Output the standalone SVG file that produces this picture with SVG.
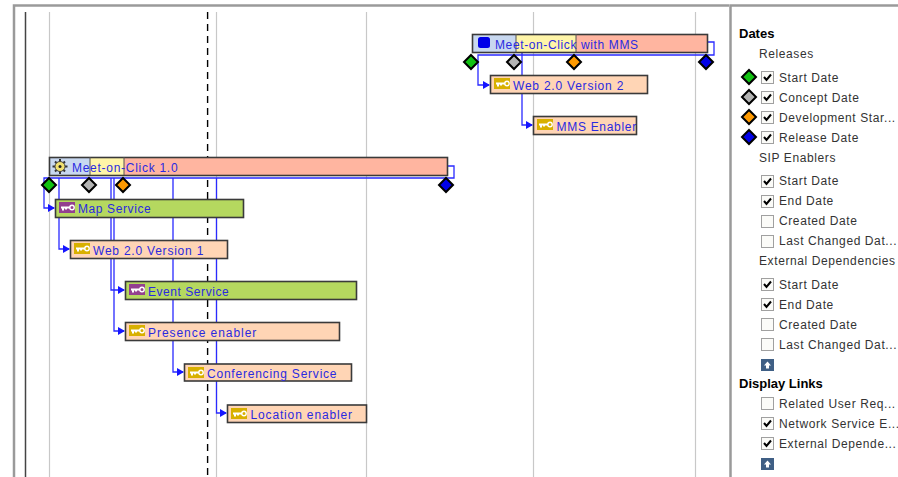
<svg xmlns="http://www.w3.org/2000/svg" width="898" height="477" viewBox="0 0 898 477">
<style>
text{font-family:"Liberation Sans",Arial,sans-serif;font-size:12px}
.t{fill:#2a2ae0;letter-spacing:.78px}
.l{fill:#333;letter-spacing:.6px}
.b{fill:#000;font-weight:700;font-size:13px}
.grid{stroke:#c8c8c8;stroke-width:1.2;fill:none}
.box{stroke:#3a3a3a;stroke-width:1.6}
.peach{fill:#ffd5b5}.green{fill:#b5d85f}.red{fill:#ffb5a0}.blue{fill:#c8d8f0}.yel{fill:#fff5a8}
.link{fill:none;stroke:#2a2aff;stroke-width:1.3}
.d{stroke:#000;stroke-width:2}
.cb{fill:#fbfbf8;stroke:#a0a0a0}
.ck{fill:none;stroke:#000;stroke-width:2}
</style>
<defs>
<marker id="arr" markerWidth="8" markerHeight="8" refX="6" refY="4" orient="auto" markerUnits="userSpaceOnUse"><path d="M0 0L7 4L0 8z" fill="#1515ff"/></marker>
<g id="key"><path d="M2 5.500h9M4 5.500v3M7 5.500v2" stroke="#fff" stroke-width="2" fill="none"/><circle cx="13" cy="5.500" r="2.200" fill="none" stroke="#fff" stroke-width="1.400"/></g>
<g id="ky"><rect width="16" height="11" fill="#d8b000"/><use href="#key"/></g>
<g id="kp"><rect width="16" height="11" fill="#93408f"/><use href="#key"/></g>
<path id="dm" class="d" d="M0 -7L7 0L0 7L-7 0z"/>
<g id="on"><rect class="cb" x=".5" y=".5" width="12" height="12"/><path class="ck" d="M3 6l2.500 3L10 3.500"/></g>
<rect id="off" class="cb" x=".5" y=".5" width="12" height="12"/>
<g id="up"><rect width="13" height="12" fill="#3f5f85"/><path d="M6.500 2.500L10 6.500H8V9.500H5V6.500H3z" fill="#fff"/></g>
</defs>

<g id="frame" fill="none">
<path d="M14 477V5.500H729" stroke="#9a9a9a" stroke-width="2.500"/>
<path d="M730.500 477V5.500H898" stroke="#9a9a9a" stroke-width="2.500"/>
<path d="M25.500 12V477" stroke="#444" stroke-width="1.500"/>
<path class="grid" d="M49.500 12V477M216.500 12V477M366.500 12V477M533.500 12V477M695.500 12V477"/>
<path d="M207.600 12V477" stroke="#000" stroke-width="1.400" stroke-dasharray="7 5"/>
</g>

<g id="connectors">
<path class="link" d="M707 42H714V55H478V85H489" marker-end="url(#arr)"/>
<path class="link" d="M522 52V125H532" marker-end="url(#arr)"/>
<path class="link" d="M447 166H454V178H44V208H54" marker-end="url(#arr)"/>
<path class="link" d="M59 178V249H69" marker-end="url(#arr)"/>
<path class="link" d="M111 178V290H124" marker-end="url(#arr)"/>
<path class="link" d="M114 178V331H124" marker-end="url(#arr)"/>
<path class="link" d="M173 178V372H183" marker-end="url(#arr)"/>
<path class="link" d="M216.500 178V413H226" marker-end="url(#arr)"/>
</g>

<g id="meet-mms">
<rect class="blue" x="472" y="34" width="44" height="18"/><rect class="yel" x="516" y="34" width="60" height="18"/><rect class="red" x="576" y="34" width="131" height="18"/>
<rect class="box" x="472.500" y="34.500" width="235" height="18" fill="none"/><path d="M516 34V52M576 34V52" stroke="#555"/>
<rect x="478" y="37" width="12" height="11" rx="2.500" fill="#0000e8"/>
<text class="t" x="495" y="49" style="letter-spacing:.62px">Meet-on-Click with MMS</text>
</g>
<g id="mms-dates">
<use href="#dm" x="471" y="62" fill="#12c212"/><use href="#dm" x="514" y="62" fill="#b4b4b4"/><use href="#dm" x="574" y="62" fill="#ff9a00"/><use href="#dm" x="706" y="62" fill="#0000e8"/>
</g>
<g id="web2v2"><rect class="box peach" x="490.500" y="75.500" width="157" height="18"/><use href="#ky" x="494" y="78"/><text class="t" x="513" y="90">Web 2.0 Version 2</text></g>
<g id="mms-enabler"><rect class="box peach" x="533.500" y="116.500" width="103" height="18"/><use href="#ky" x="537" y="119"/><text class="t" x="556.500" y="131" style="letter-spacing:.7px">MMS Enabler</text></g>

<g id="meet-10">
<rect class="blue" x="49" y="157" width="41" height="18"/><rect class="yel" x="90" y="157" width="34" height="18"/><rect class="red" x="124" y="157" width="323" height="18"/>
<rect class="box" x="49.500" y="157.500" width="398" height="18" fill="none"/><path d="M90 157V175M124 157V175" stroke="#555"/>
<g stroke="#333" stroke-width="2"><path d="M60 159V174M52.500 166.500H67.500M55 161.500L65 171.500M65 161.500L55 171.500"/></g>
<circle cx="60" cy="166.500" r="5" fill="#f0e070" stroke="#444"/><circle cx="60" cy="166.500" r="1.500" fill="#222"/>
<text class="t" x="72" y="172" style="letter-spacing:.72px">Meet-on-Click 1.0</text>
</g>
<g id="meet-10-dates">
<use href="#dm" x="49" y="185" fill="#12c212"/><use href="#dm" x="89" y="185" fill="#b4b4b4"/><use href="#dm" x="123" y="185" fill="#ff9a00"/><use href="#dm" x="446" y="185" fill="#0000e8"/>
</g>
<g id="map-service"><rect class="box green" x="55.500" y="199.500" width="188" height="18"/><use href="#kp" x="59" y="202"/><text class="t" x="78" y="213" style="letter-spacing:.6px">Map Service</text></g>
<g id="web2v1"><rect class="box peach" x="70.500" y="240.500" width="157" height="18"/><use href="#ky" x="74" y="243"/><text class="t" x="93" y="255">Web 2.0 Version 1</text></g>
<g id="event-service"><rect class="box green" x="125.500" y="281.500" width="231" height="18"/><use href="#kp" x="129" y="284"/><text class="t" x="148" y="296" style="letter-spacing:.55px">Event Service</text></g>
<g id="presence"><rect class="box peach" x="125.500" y="322.500" width="214" height="18"/><use href="#ky" x="129" y="325"/><text class="t" x="148" y="337" style="letter-spacing:.95px">Presence enabler</text></g>
<g id="conferencing"><rect class="box peach" x="184.500" y="364" width="167" height="17"/><use href="#ky" x="188" y="367"/><text class="t" x="207" y="378">Conferencing Service</text></g>
<g id="location"><rect class="box peach" x="227.500" y="405" width="139" height="17.500"/><use href="#ky" x="231" y="408"/><text class="t" x="250.500" y="419" style="letter-spacing:.85px">Location enabler</text></g>

<g id="legend">
<text class="b" x="739" y="38">Dates</text>
<text class="l" x="759" y="58">Releases</text>
<use href="#dm" x="749" y="77" fill="#12c212"/><use href="#on" x="761" y="71"/><text class="l" x="779" y="82">Start Date</text>
<use href="#dm" x="749" y="97" fill="#b4b4b4"/><use href="#on" x="761" y="91"/><text class="l" x="779" y="102">Concept Date</text>
<use href="#dm" x="749" y="117" fill="#ff9a00"/><use href="#on" x="761" y="111"/><text class="l" x="779" y="122">Development Star...</text>
<use href="#dm" x="749" y="137" fill="#0000e8"/><use href="#on" x="761" y="131"/><text class="l" x="779" y="142">Release Date</text>
<text class="l" x="759" y="162">SIP Enablers</text>
<use href="#on" x="761" y="175"/><text class="l" x="779" y="185">Start Date</text>
<use href="#on" x="761" y="195"/><text class="l" x="779" y="205">End Date</text>
<use href="#off" x="761" y="215"/><text class="l" x="779" y="225">Created Date</text>
<use href="#off" x="761" y="235"/><text class="l" x="779" y="245">Last Changed Dat...</text>
<text class="l" x="759" y="265">External Dependencies</text>
<use href="#on" x="761" y="278"/><text class="l" x="779" y="289">Start Date</text>
<use href="#on" x="761" y="298"/><text class="l" x="779" y="309">End Date</text>
<use href="#off" x="761" y="318"/><text class="l" x="779" y="329">Created Date</text>
<use href="#off" x="761" y="338"/><text class="l" x="779" y="349">Last Changed Dat...</text>
<use href="#up" x="761" y="359"/>
<text class="b" x="739" y="388">Display Links</text>
<use href="#off" x="761" y="397"/><text class="l" x="779" y="408">Related User Req...</text>
<use href="#on" x="761" y="417"/><text class="l" x="779" y="428">Network Service E...</text>
<use href="#on" x="761" y="437"/><text class="l" x="779" y="448">External Depende...</text>
<use href="#up" x="761" y="458"/>
</g>
</svg>
